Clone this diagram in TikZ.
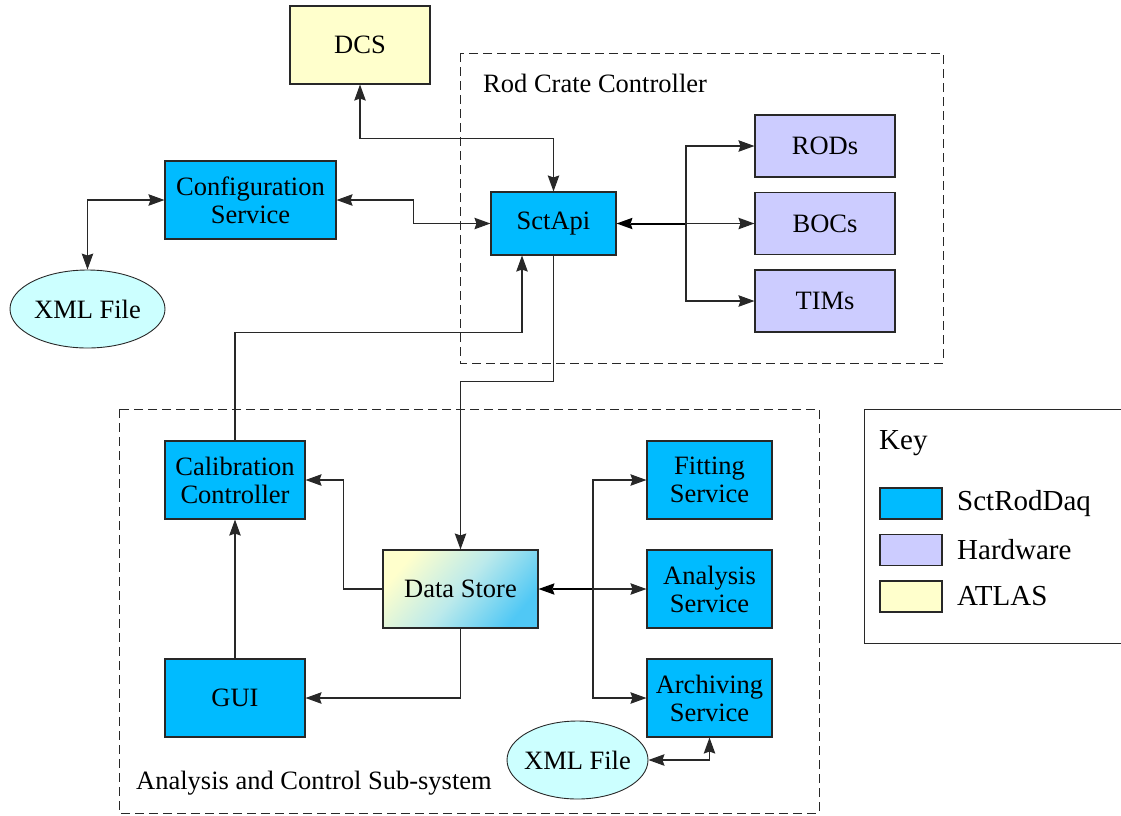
\documentclass[tikz,border=0pt]{standalone}
\usepackage{fontspec}
\setmainfont{Liberation Serif}
\usetikzlibrary{arrows.meta,shapes.geometric}

\definecolor{sctblue}{RGB}{0,187,255}
\definecolor{hwlav}{RGB}{204,204,255}
\definecolor{atlasyel}{RGB}{255,255,204}
\definecolor{xmlcyan}{RGB}{204,255,255}
\definecolor{dsblue}{RGB}{80,200,245}
\definecolor{edge}{RGB}{40,40,40}

\newcommand{\boxfont}{\fontsize{26.5}{28}\selectfont}
\newcommand{\keyfont}{\fontsize{29}{31}\selectfont}

\tikzset{
  block/.style={draw=edge, line width=1.1pt, align=center, inner sep=0pt,
                font=\boxfont, text=black},
  swbox/.style={block, fill=sctblue},
  hwbox/.style={block, fill=hwlav, minimum width=140pt, minimum height=62pt},
  atbox/.style={block, fill=atlasyel},
  xmlfile/.style={block, ellipse, fill=xmlcyan, line width=0.9pt, inner xsep=-8pt},
  link/.style={draw=edge, line width=1.1pt},
  onearrow/.style={link, -{Stealth[length=16pt,width=11.5pt,inset=2pt]}},
  twoarrow/.style={link, {Stealth[length=16pt,width=11.5pt,inset=2pt]}-{Stealth[length=16pt,width=11.5pt,inset=2pt]}},
  bus/.style={draw=black, line width=2pt, {Stealth[length=16pt,width=11.5pt,inset=2pt,line width=0pt]}-},
  subsys/.style={draw=edge, line width=0.9pt, dash pattern=on 9pt off 5pt},
  caption/.style={anchor=west, font=\boxfont, inner sep=0pt},
}

\begin{document}
\begin{tikzpicture}[x=1pt,y=-1pt]
\useasboundingbox (0,0) rectangle (1121,815);

% sub-system frames
\draw[subsys] (460,53) rectangle (943,363);
\node[caption] (rcclabel) at (483,83) {Rod Crate Controller};
\draw[subsys] (119,409) rectangle (819,813);
\node[caption] (acslabel) at (136,783) {Analysis and Control Sub-system};

% components
\node[atbox, minimum width=140pt, minimum height=78pt] (dcs) at (360,45) {DCS};
\node[swbox, minimum width=171pt, minimum height=78pt] (cfg) at (250.5,200) {Configuration\\Service};
\node[swbox, minimum width=125pt, minimum height=63pt] (api) at (553.5,223.5) {SctApi};
\node[hwbox] (rods) at (825,146) {RODs};
\node[hwbox] (bocs) at (825,223.5) {BOCs};
\node[hwbox] (tims) at (825,301) {TIMs};
\node[xmlfile, minimum width=155pt, minimum height=78pt] (xmlA) at (87.5,309) {XML File};

\node[swbox, minimum width=140pt, minimum height=78pt] (cal) at (235,480) {Calibration\\Controller};
\node[swbox, minimum width=140pt, minimum height=78pt] (gui) at (235,698) {GUI};
\node[block, minimum width=155pt, minimum height=78pt,
      top color=atlasyel, bottom color=dsblue, middle color=atlasyel!45!dsblue!70,
      shading angle=50] (ds) at (460.5,589) {Data Store};
\node[swbox, minimum width=125pt, minimum height=78pt] (fit) at (709.5,480) {Fitting\\Service};
\node[swbox, minimum width=125pt, minimum height=78pt] (ana) at (709.5,589) {Analysis\\Service};
\node[swbox, minimum width=125pt, minimum height=78pt] (arc) at (709.5,698) {Archiving\\Service};
\node[xmlfile, minimum width=141pt, minimum height=78pt] (xmlB) at (577.5,760) {XML File};

% connections around the rod crate controller
\draw[twoarrow] (dcs.south) -- ++(0,54) -| (api.north);
\draw[twoarrow] (cfg.east) -- ++(77,0) |- (api.west);
\draw[twoarrow] (cfg.west) -| (xmlA.north);
\coordinate (hwjoin) at (686,223.5);
\draw[bus] (api.east) -- (hwjoin);
\draw[onearrow] (hwjoin) |- (rods.west);
\draw[onearrow] (hwjoin) -- (bocs.west);
\draw[onearrow] (hwjoin) |- (tims.west);

% connections of the analysis and control sub-system
\draw[onearrow] (cal.north) -- ++(0,-108) -| ([xshift=-31.5pt]api.south);
\draw[onearrow] (api.south) -- ++(0,126) -| (ds.north);
\draw[onearrow] (ds.west) -- ++(-39,0) |- (cal.east);
\draw[onearrow] (gui.north) -- (cal.south);
\draw[onearrow] (ds.south) |- (gui.east);
\coordinate (svcjoin) at (593,589);
\draw[bus] (ds.east) -- (svcjoin);
\draw[onearrow] (svcjoin) |- (fit.west);
\draw[onearrow] (svcjoin) -- (ana.west);
\draw[onearrow] (svcjoin) |- (arc.west);
\draw[twoarrow] (arc.south) |- (xmlB.east);

% key
\draw[draw=edge, line width=0.9pt] (1125,409) -- (864,409) -- (864,643) -- (1125,643);
\node[anchor=west, font=\keyfont, inner sep=0pt] (keytitle) at (879,443) {Key};
\node[swbox, minimum width=62pt, minimum height=31pt] (k1) at (911,503.5) {};
\node[block, fill=hwlav, minimum width=62pt, minimum height=31pt] (k2) at (911,550) {};
\node[atbox, minimum width=62pt, minimum height=31pt] (k3) at (911,596.5) {};
\node[anchor=west, font=\keyfont, inner sep=0pt] (k1t) at (957,503.5) {SctRodDaq};
\node[anchor=west, font=\keyfont, inner sep=0pt] (k2t) at (957,550) {Hardware};
\node[anchor=west, font=\keyfont, inner sep=0pt] (k3t) at (957,596.5) {ATLAS};
\end{tikzpicture}
\end{document}
